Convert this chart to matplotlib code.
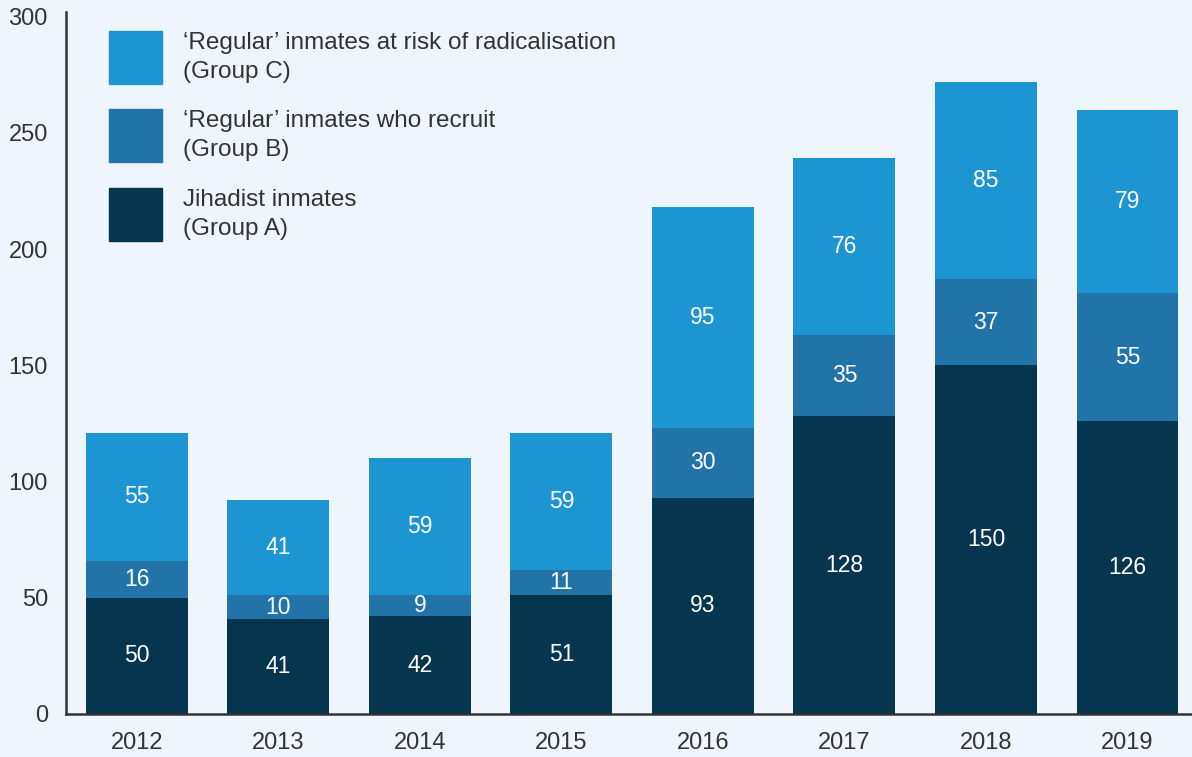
import matplotlib
matplotlib.use('Agg')
import matplotlib.pyplot as plt
from matplotlib.patches import Rectangle
import numpy as np

years = ['2012', '2013', '2014', '2015', '2016', '2017', '2018', '2019']
group_a = [50, 41, 42, 51, 93, 128, 150, 126]
group_b = [16, 10, 9, 11, 30, 35, 37, 55]
group_c = [55, 41, 59, 59, 95, 76, 85, 79]
labels = ['‘Regular’ inmates at risk of radicalisation\n(Group C)',
          '‘Regular’ inmates who recruit\n(Group B)',
          'Jihadist inmates\n(Group A)']
yticks = [0, 50, 100, 150, 200, 250, 300]

col_a = '#06364F'
col_b = '#2274A8'
col_c = '#1E95D3'
bg = '#EEF5FC'
txt = '#333333'

plt.rcParams['font.family'] = ['Liberation Sans', 'DejaVu Sans']

fig = plt.figure(figsize=(11.92, 7.57), dpi=100, facecolor=bg)
ax = fig.add_axes([66/1192, 1-714/757, 1-66/1192, (714-12)/757])
ax.set_facecolor(bg)

x = np.arange(len(years))
a = np.array(group_a)
b = np.array(group_b)
c = np.array(group_c)
w = 0.72
ax.bar(x, a, w, color=col_a)
ax.bar(x, b, w, bottom=a, color=col_b)
ax.bar(x, c, w, bottom=a+b, color=col_c)

for i in range(len(years)):
    ax.text(x[i], a[i]/2, str(a[i]), ha='center', va='center', color='white', fontsize=16.5)
    ax.text(x[i], a[i]+b[i]/2, str(b[i]), ha='center', va='center', color='white', fontsize=16.5)
    ax.text(x[i], a[i]+b[i]+c[i]/2, str(c[i]), ha='center', va='center', color='white', fontsize=16.5)

ax.set_xlim(-0.5, 7.456)
ax.set_ylim(0, 302)
ax.set_xticks(x)
ax.set_xticklabels(years)
ax.set_yticks(yticks)
ax.tick_params(axis='both', length=0, labelsize=17, colors=txt)
ax.tick_params(axis='y', pad=13)
ax.tick_params(axis='x', pad=13)
for s in ['top', 'right']:
    ax.spines[s].set_visible(False)
for s in ['left', 'bottom']:
    ax.spines[s].set_color(txt)
    ax.spines[s].set_linewidth(1.8)

# legend drawn by hand (square swatches, two-line labels)
cols = [col_c, col_b, col_a]
sw_bottom = [0.8974, 0.7863, 0.6738]
sw_w = 53/1126
sw_h = 53/702
for k in range(3):
    ax.add_patch(Rectangle((0.0382, sw_bottom[k]), sw_w, sw_h, color=cols[k],
                           transform=ax.transAxes, clip_on=False))
    ax.text(0.1039, sw_bottom[k] + sw_h/2, labels[k], transform=ax.transAxes,
            ha='left', va='center', fontsize=17.5, color=txt, linespacing=1.42)

fig.savefig('out.png', dpi=100, facecolor=bg)
